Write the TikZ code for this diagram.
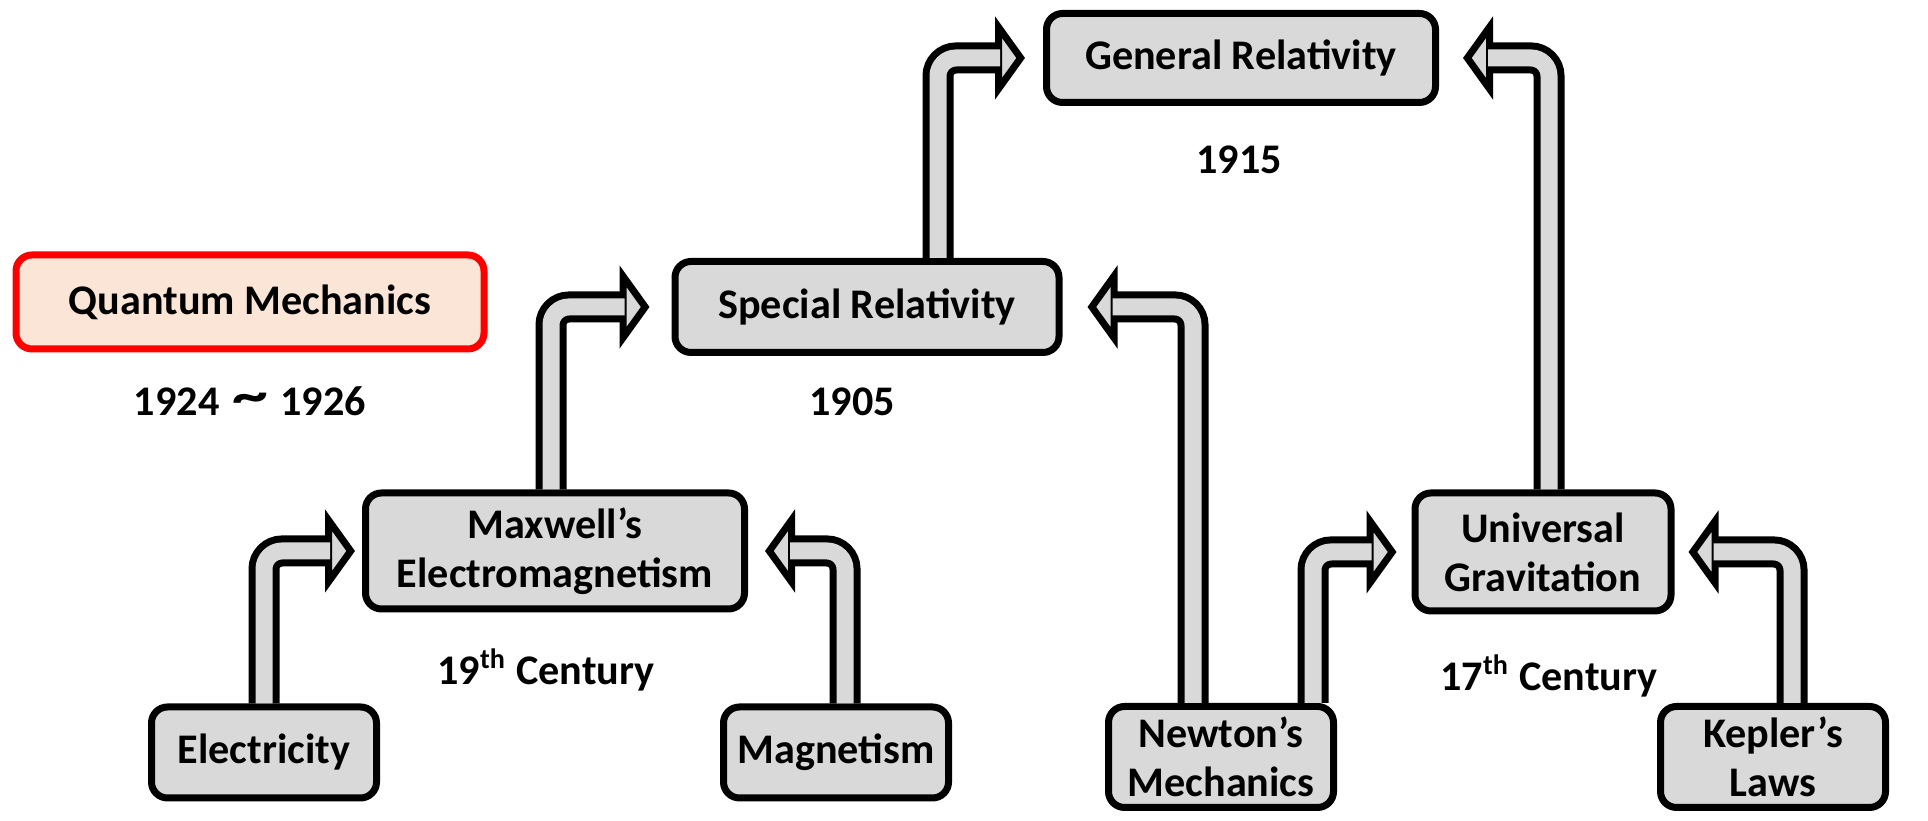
\documentclass[tikz,border=0pt]{standalone}
\usepackage{fontspec}
\setmainfont{Carlito}
\usepackage{graphicx}
\usepackage{xcolor}
\usepackage{tikz}
\usetikzlibrary{arrows.meta}

\definecolor{boxgray}{RGB}{217,217,217}
\definecolor{qmfill}{RGB}{251,229,214}
\definecolor{qmred}{RGB}{255,0,0}

\begin{document}
\begin{tikzpicture}[
  font=\bfseries\fontsize{12}{14}\selectfont,
  box/.style={draw, line width=0.7mm, rounded corners=1.6mm, fill=boxgray,
              minimum width=2.25cm, minimum height=0.91cm, align=center, inner sep=1mm},
  qbox/.style={box, draw=qmred, fill=qmfill},
  year/.style={inner sep=0pt},
  pipe/.style={line width=3.1mm, rounded corners=1.8mm, shorten >=#1,
               -{Triangle[length=3mm, width=8.2mm, line width=0.7mm, fill=boxgray]},
               postaction={draw=boxgray, line width=1.7mm, -, shorten >=#1+2.5mm}},
  pipe/.default=1.8mm
]
\useasboundingbox (0,0) rectangle (19.28,8.21);
% top row
\node[box, minimum width=3.89cm, minimum height=0.89cm] (gr) at (12.41,7.63) {General Relativity};
\node[year] (gr-year) at (12.39,6.61) {1915};
\node[qbox, minimum width=4.68cm, minimum height=0.94cm] (qm) at (2.50,5.19) {Quantum Mechanics};
\node[year] (qm-year) at (2.50,4.20) {1924\hspace{0.3em}\raisebox{0.1ex}{\scalebox{1.7}[1.3]{\textasciitilde}}\hspace{0.3em}1926};
\node[box, minimum width=3.84cm] (sr) at (8.67,5.14) {Special Relativity};
\node[year] (sr-year) at (8.52,4.19) {1905};
% middle row
\node[box, minimum width=3.79cm, minimum height=1.16cm] (maxwell) at (5.55,2.70) {Maxwell’s\\Electromagnetism};
\node[year] (maxwell-year) at (5.46,1.51) {19\textsuperscript{th} Century};
\node[box, minimum width=2.56cm, minimum height=1.18cm] (grav) at (15.43,2.69) {Universal\\Gravitation};
\node[year] (grav-year) at (15.49,1.45) {17\textsuperscript{th} Century};
% bottom row
\node[box] (elec) at (2.64,0.685) {Electricity};
\node[box] (magn) at (8.36,0.685) {Magnetism};
\node[box, minimum height=1.01cm] (newton) at (12.21,0.64) {Newton’s\\Mechanics};
\node[box, minimum height=1.01cm] (kepler) at (17.73,0.64) {Kepler’s\\Laws};
% pipes
\draw[pipe=0.7mm] (elec.north) |- (maxwell.west);
\draw[pipe=1.7mm] ([xshift=0.9mm]magn.north) |- (maxwell.east);
\draw[pipe=2.2mm] ([xshift=-0.4mm]maxwell.north) |- (sr.west);
\draw[pipe] ([xshift=7.1mm]sr.north) |- (gr.west);
\draw[pipe=2.5mm] ([xshift=-2.8mm]newton.north) |- (sr.east);
\draw[pipe=1.5mm] ([xshift=9.2mm]newton.north) |- (grav.west);
\draw[pipe=2.4mm] ([xshift=0.6mm]grav.north) |- (gr.east);
\draw[pipe=1.4mm] ([xshift=1.9mm]kepler.north) |- (grav.east);
\end{tikzpicture}
\end{document}
